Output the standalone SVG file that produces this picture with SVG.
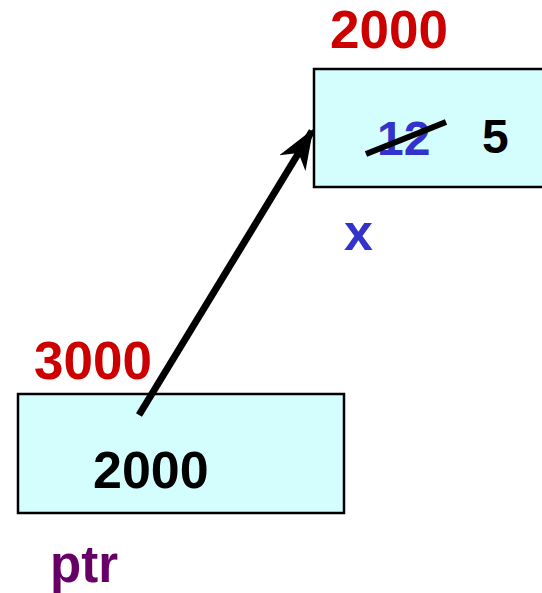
<svg xmlns="http://www.w3.org/2000/svg" width="542" height="593" viewBox="0 0 542 593">
<style>
.box{fill:#D4FEFE;stroke:#000;stroke-width:2.5}
text{font-family:"Liberation Sans",Arial,sans-serif;font-weight:bold}
.addr{fill:#CC0000;font-size:53px}
.val{fill:#000;font-size:48px}
</style>
<defs>
<marker id="ah" markerUnits="userSpaceOnUse" markerWidth="40" markerHeight="40" refX="32" refY="15" orient="auto" viewBox="0 0 34 30">
<path d="M34,15 L0,2 L10,15 L0,28 Z" fill="#000"/>
</marker>
</defs>
<rect width="542" height="593" fill="#fff"/>
<g id="node-x">
<rect class="box" x="314" y="69" width="240" height="118"/>
<text class="addr" x="330" y="48">2000</text>
<text x="377" y="155" style="fill:#3333CC;font-size:48px">12</text>
<line x1="366" y1="154" x2="446" y2="122" stroke="#000" stroke-width="6"/>
<text class="val" x="482" y="153">5</text>
<text x="344" y="250" style="fill:#3333CC;font-size:52px">x</text>
</g>
<g id="node-ptr">
<rect class="box" x="18" y="394" width="326" height="119"/>
<text class="addr" x="34" y="379">3000</text>
<text class="val" x="93" y="488" style="font-size:52px">2000</text>
<text x="50" y="582" style="fill:#660066;font-size:51px">ptr</text>
</g>
<g id="connectors">
<line x1="139" y1="415" x2="312" y2="131" stroke="#000" stroke-width="7" marker-end="url(#ah)"/>
</g>
</svg>
